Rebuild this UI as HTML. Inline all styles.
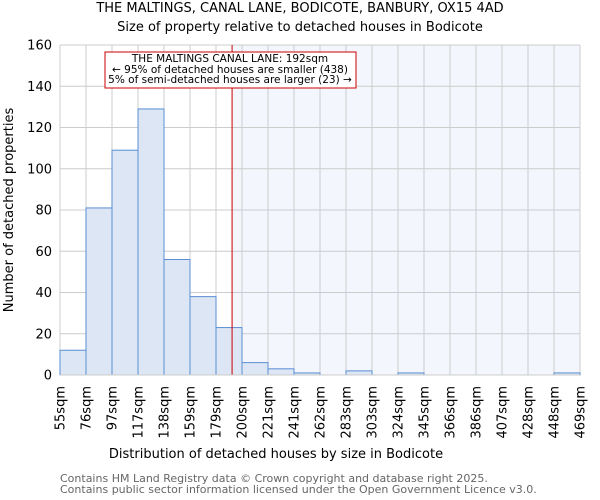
<!DOCTYPE html>
<html><head><meta charset="utf-8"><style>
body{margin:0;background:#fff}
svg{display:block;font-family:"DejaVu Sans","Liberation Sans",sans-serif}
</style></head><body>
<svg id="chart" width="600" height="500" viewBox="0 0 600 500">
<text x="300" y="12" text-anchor="middle" font-size="13">THE MALTINGS, CANAL LANE, BODICOTE, BANBURY, OX15 4AD</text>
<text x="300" y="31" text-anchor="middle" font-size="13">Size of property relative to detached houses in Bodicote</text>
<g id="grid"></g><g id="bars"></g><g id="axes"></g>
<text x="276" y="458" text-anchor="middle" font-size="13">Distribution of detached houses by size in Bodicote</text>
<text transform="translate(13,210) rotate(-90)" text-anchor="middle" font-size="13">Number of detached properties</text>
<text x="60" y="482" font-size="11" fill="#666">Contains HM Land Registry data © Crown copyright and database right 2025.</text>
<text x="60" y="493" font-size="11" fill="#666">Contains public sector information licensed under the Open Government Licence v3.0.</text>
</svg>
<script>
const binLabels=["55sqm","76sqm","97sqm","117sqm","138sqm","159sqm","179sqm","200sqm","221sqm","241sqm","262sqm","283sqm","303sqm","324sqm","345sqm","366sqm","386sqm","407sqm","428sqm","448sqm","469sqm"];
const counts=[12,81,109,129,56,38,23,6,3,1,0,2,0,1,0,0,0,0,0,1];
const yTicks=[0,20,40,60,80,100,120,140,160];
const propertySize=192;
const binStart=55, binEnd=469;
const NS="http://www.w3.org/2000/svg";
const X0=60,X1=580,Y0=375,Y1=45,YMAX=160;
const bw=(X1-X0)/counts.length;
const xs=v=>X0+(v-binStart)/(binEnd-binStart)*(X1-X0);
const ys=v=>Y0-v/YMAX*(Y0-Y1);
function mk(tag,attrs,parent){const e=document.createElementNS(NS,tag);for(const k in attrs)e.setAttribute(k,attrs[k]);parent.appendChild(e);return e;}
const grid=document.getElementById('grid'),bars=document.getElementById('bars'),axes=document.getElementById('axes');
const px=xs(propertySize);
let r=mk('rect',{x:X0,y:Y1,width:X1-X0,height:Y0-Y1,fill:'#fff'},grid);


r=mk('rect',{x:px,y:Y1,width:X1-px,height:Y0-Y1,fill:'#f3f6fd'},grid);


for(let i=0;i<=counts.length;i++){const x=X0+i*bw;
 const l=mk('line',{x1:x,x2:x,y1:Y1,y2:Y0,stroke:'#cccccc','stroke-width':1},grid);
 
 
 const t=mk('text',{transform:`translate(${x+4.5},386) rotate(-90)`,'text-anchor':'end','font-size':13},axes);
 t.textContent=binLabels[i];
 
 
}
yTicks.forEach(v=>{const y=ys(v);
 const l=mk('line',{x1:X0,x2:X1,y1:y,y2:y,stroke:'#cccccc','stroke-width':1},grid);
 
 
 const t=mk('text',{x:X0-8,y:y+4.5,'text-anchor':'end','font-size':13},axes);
 t.textContent=v;
 
 
});
counts.forEach((c,i)=>{if(c<=0)return;
 const b=mk('rect',{x:X0+i*bw,y:ys(c),width:bw,height:Y0-ys(c),fill:'#dce6f4',stroke:'#5a8ed4','stroke-width':1},bars);
 
 
});
let ln=mk('line',{x1:px,x2:px,y1:Y1,y2:Y0,stroke:'#cc0000','stroke-width':1},bars);


let ax=mk('line',{x1:X0,x2:X1,y1:Y0,y2:Y0,stroke:'#ccc','stroke-width':1},axes);


const g=mk('g',{},axes);


mk('rect',{x:105,y:52,width:251,height:36,fill:'#fff',stroke:'#cc0000','stroke-width':1},g);
[["THE MALTINGS CANAL LANE: 192sqm",62],["← 95% of detached houses are smaller (438)",73],["5% of semi-detached houses are larger (23) →",83]].forEach(([s,y])=>{
 const t=mk('text',{x:230,y:y,'text-anchor':'middle','font-size':10.5},g);t.textContent=s;
 
 
});
</script>
</body></html>
